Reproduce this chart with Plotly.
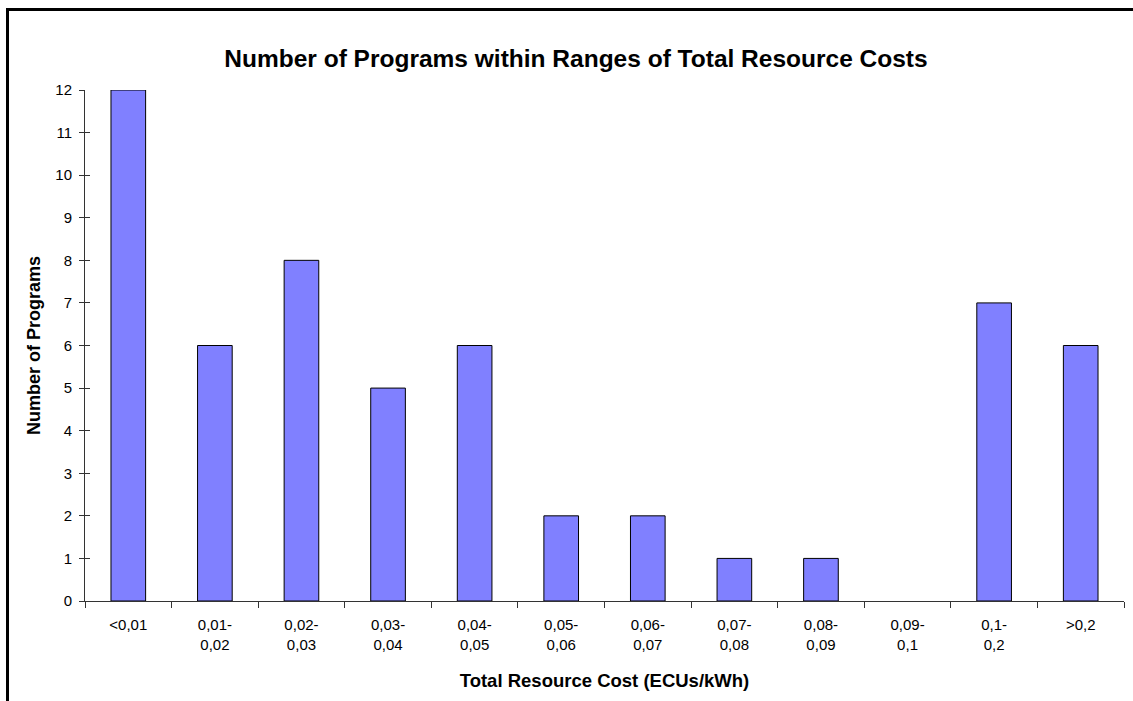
import plotly.graph_objects as go

categories = ["<0,01", "0,01-<br>0,02", "0,02-<br>0,03", "0,03-<br>0,04", "0,04-<br>0,05",
              "0,05-<br>0,06", "0,06-<br>0,07", "0,07-<br>0,08", "0,08-<br>0,09",
              "0,09-<br>0,1", "0,1-<br>0,2", ">0,2"]
counts = [12, 6, 8, 5, 6, 2, 2, 1, 1, 0, 7, 6]
y_ticks = list(range(0, 13))

FONT = "Liberation Sans, Arial, sans-serif"

fig = go.Figure()
fig.add_trace(go.Bar(
    x=categories, y=counts,
    marker=dict(color="#8080FF",
                line=dict(color="black", width=[1 if v > 0 else 0 for v in counts])),
    showlegend=False,
))
# invisible trace to drive the overlay axis with inside ticks
fig.add_trace(go.Scatter(x=[categories[0]], y=[0], xaxis="x", yaxis="y2",
                         mode="markers", marker=dict(opacity=0), showlegend=False,
                         hoverinfo="skip"))

W, H = 1133, 701
L, R, T, B = 85, 9, 90, 100
pw = W - L - R
ph = H - T - B

fig.update_layout(
    width=W, height=H,
    margin=dict(l=L, r=R, t=T, b=B),
    paper_bgcolor="white", plot_bgcolor="white",
    bargap=0.6,
    font=dict(family=FONT, size=15, color="black"),
    title=dict(text="<b>Number of Programs within Ranges of Total Resource Costs</b>",
               x=576 / W, xanchor="center",
               y=1 - 58 / H, yanchor="middle",
               font=dict(family=FONT, size=24.5, color="black")),
    xaxis=dict(
        type="category", range=[-0.5, 11.5],
        showline=True, linecolor="#333", linewidth=1,
        ticks="outside", ticklen=6, tickcolor="#333", tickson="boundaries",
        showgrid=False, zeroline=False,
        tickfont=dict(family=FONT, size=15),
        ticklabelstandoff=10,
        title=dict(text="<b>Total Resource Cost (ECUs/kWh)</b>",
                   font=dict(family=FONT, size=18.5), standoff=22),
    ),
    yaxis=dict(
        range=[0, 12], tickvals=y_ticks,
        showline=True, linecolor="#333", linewidth=1,
        ticks="outside", ticklen=5, tickcolor="#333",
        showgrid=False, zeroline=False,
        tickfont=dict(family=FONT, size=15),
        ticklabelstandoff=4,
        title=dict(text="<b>Number of Programs</b>",
                   font=dict(family=FONT, size=18), standoff=10),
    ),
    yaxis2=dict(
        overlaying="y", range=[0, 12], tickvals=y_ticks,
        ticks="inside", ticklen=5, tickcolor="#333", showticklabels=False,
        showgrid=False, zeroline=False, showline=False, side="left",
    ),
    shapes=[dict(type="rect", xref="paper", yref="paper",
                 x0=(7.5 - L) / pw, x1=1.2,
                 y0=-0.5, y1=(H - B - 9.5) / ph,
                 line=dict(color="black", width=3), fillcolor="rgba(0,0,0,0)",
                 layer="above")],
)

fig.write_html("out.html")
